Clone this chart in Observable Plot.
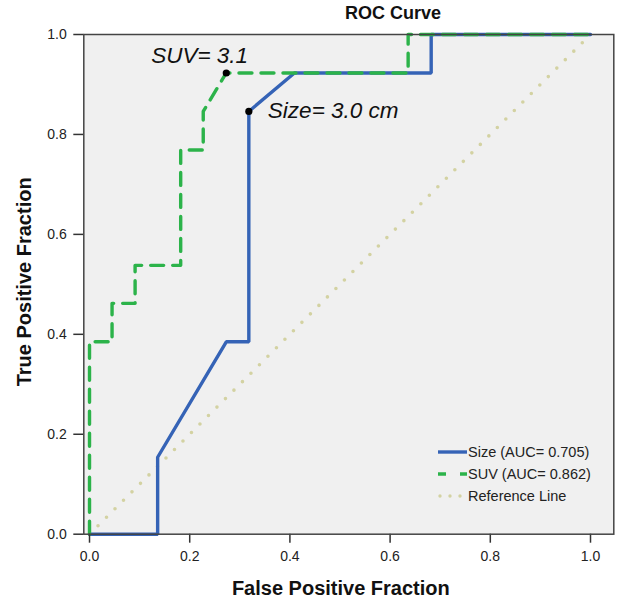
<!DOCTYPE html>
<html>
<head>
<meta charset="utf-8">
<script src="https://cdn.jsdelivr.net/npm/d3@7"></script>
<script src="https://cdn.jsdelivr.net/npm/@observablehq/plot@0.6"></script>
<style>
  html, body { margin: 0; padding: 0; background: #fff; }
  body { width: 619px; height: 599px; position: relative; overflow: hidden; font-family: "Liberation Sans", Arial, sans-serif; }
  #title { position: absolute; left: 345px; top: 3px; font-weight: bold; font-size: 18px; color: #111; white-space: nowrap; }
  #chart { position: absolute; left: 0; top: 26px; }
  #legend { position: absolute; left: 436px; top: 441px; font-size: 14.5px; color: #222; }
  #legend .row { display: flex; align-items: center; height: 22px; }
  #legend svg { display: block; }
</style>
</head>
<body>
<div id="title">ROC Curve</div>
<div id="chart"></div>
<div id="legend"></div>
<script>
// ---- data ----
const sizeFPR = [0, 0.136, 0.136, 0.273, 0.318, 0.318, 0.409, 0.682, 0.682, 1.0];
const sizeTPR = [0, 0, 0.154, 0.385, 0.385, 0.846, 0.923, 0.923, 1.0, 1.0];
const suvFPR  = [0, 0, 0.045, 0.045, 0.091, 0.091, 0.182, 0.182, 0.227, 0.227, 0.273, 0.636, 0.636, 1.0];
const suvTPR  = [0, 0.385, 0.385, 0.462, 0.462, 0.538, 0.538, 0.769, 0.769, 0.846, 0.923, 0.923, 1.0, 1.0];
const refFPR  = [0, 1];
const refTPR  = [0, 1];
const cutNames = ["SUV", "Size"];
const cutFPR  = [0.273, 0.318];
const cutTPR  = [0.923, 0.846];
const cutLabels = ["SUV= 3.1", "Size= 3.0 cm"];
const cutLabelX = [0.123, 0.356];
const cutLabelY = [0.942, 0.832];
const tickValues = [0, 0.2, 0.4, 0.6, 0.8, 1.0];
const legendLabels = ["Size (AUC= 0.705)", "SUV (AUC= 0.862)", "Reference Line"];

const BLUE = "#3563b6", GREEN = "#2cb34a", REF = "#d3d2a2";

const sizeData = sizeFPR.map((x, i) => ({x, y: sizeTPR[i]}));
const suvData = suvFPR.map((x, i) => ({x, y: suvTPR[i]}));
const refData = refFPR.map((x, i) => ({x, y: refTPR[i]}));
const cutData = cutNames.map((n, i) => ({n, x: cutFPR[i], y: cutTPR[i]}));
const labelData = cutLabels.map((t, i) => ({t, x: cutLabelX[i], y: cutLabelY[i]}));

const plot = Plot.plot({
  width: 619,
  height: 573,
  marginLeft: 83.3,
  marginRight: 5.7,
  marginTop: 8,
  marginBottom: 65.3,
  style: {fontFamily: "'Liberation Sans', Arial, sans-serif", fontSize: "14px", color: "#222", background: "transparent", overflow: "visible"},
  x: {domain: [-0.0114, 1.0465]},
  y: {domain: [0, 1]},
  marks: [
    Plot.frame({fill: "#f0f0f0", stroke: null}),
    Plot.line(refData, {x: "x", y: "y", stroke: REF, strokeWidth: 3.6, strokeDasharray: "0 12", strokeLinecap: "round"}),
    Plot.line(sizeData, {x: "x", y: "y", stroke: BLUE, strokeWidth: 3.4, strokeLinejoin: "miter"}),
    Plot.line(suvData, {x: "x", y: "y", stroke: GREEN, strokeWidth: 3.4, strokeDasharray: "13 9"}),
    Plot.dot(cutData, {x: "x", y: "y", r: 3.6, fill: "#000", stroke: null}),
    Plot.text(labelData, {x: "x", y: "y", text: "t", textAnchor: "start", lineAnchor: "bottom", fontSize: 22.5, fontStyle: "italic", fill: "#111"}),
    Plot.axisX({ticks: tickValues, tickFormat: d => d.toFixed(1), tickSize: 9, tickPadding: 8, stroke: "#333", strokeWidth: 1.5, fill: "#222", fontSize: 14, label: null}),
    Plot.axisY({ticks: tickValues, tickFormat: d => d.toFixed(1), tickSize: 10, tickPadding: 7, stroke: "#333", strokeWidth: 1.5, fill: "#222", fontSize: 14, label: null}),
    Plot.text(["False Positive Fraction"], {frameAnchor: "bottom", dy: 54, dx: -8, fontSize: 20, fontWeight: "bold", fill: "#111", lineAnchor: "middle"}),
    Plot.text(["True Positive Fraction"], {frameAnchor: "left", dx: -59.5, dy: -2.5, rotate: -90, fontSize: 20, fontWeight: "bold", fill: "#111", textAnchor: "middle", lineAnchor: "middle"}),
    Plot.frame({stroke: "#444", strokeWidth: 1.5, fill: "none"})
  ]
});
document.getElementById("chart").appendChild(plot);

// legend
const swatches = [
  {stroke: BLUE, dash: null, cap: "butt"},
  {stroke: GREEN, dash: "8 14", cap: "butt"},
  {stroke: REF, dash: "0 10", cap: "round"}
];
const legend = d3.select("#legend");
legendLabels.forEach((lab, i) => {
  const row = legend.append("div").attr("class", "row");
  const s = row.append("svg").attr("width", 32).attr("height", 10);
  const sw = swatches[i];
  s.append("line").attr("x1", sw.cap === "round" ? 4 : 2).attr("x2", 31).attr("y1", 5).attr("y2", 5)
    .attr("stroke", sw.stroke).attr("stroke-width", 3.4)
    .attr("stroke-dasharray", sw.dash).attr("stroke-linecap", sw.cap);
  row.append("span").text(lab);
});
</script>
</body>
</html>
